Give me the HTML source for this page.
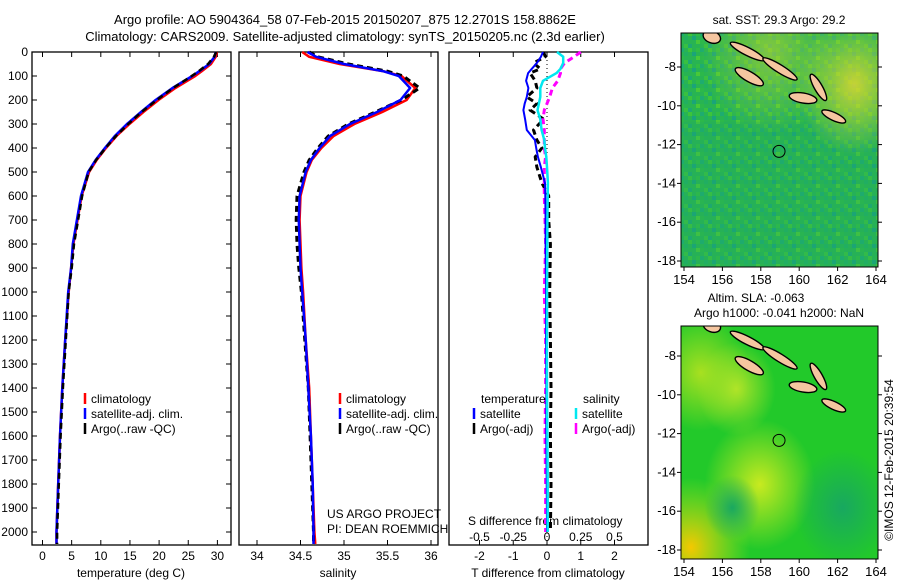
<!DOCTYPE html>
<html><head><meta charset="utf-8"><style>
body{margin:0;background:#fff}
svg{display:block;font-family:"Liberation Sans",sans-serif;font-size:12px}
</style></head><body>
<svg id="fig" width="900" height="580" viewBox="0 0 900 580">
<defs>
<pattern id="sstTex" width="20" height="16" patternUnits="userSpaceOnUse">
<rect width="20" height="16" fill="#28b452"/>
<rect x="0" y="0" width="4" height="4" fill="#1eac70"/><rect x="8" y="0" width="4" height="4" fill="#3cc43a"/>
<rect x="4" y="4" width="4" height="4" fill="#22b060"/><rect x="12" y="4" width="4" height="4" fill="#1aa47a"/>
<rect x="16" y="8" width="4" height="4" fill="#48c838"/><rect x="0" y="8" width="4" height="4" fill="#2cb84a"/>
<rect x="8" y="12" width="4" height="4" fill="#1ea872"/><rect x="16" y="0" width="4" height="4" fill="#30bc44"/>
<rect x="4" y="12" width="4" height="4" fill="#38c040"/>
</pattern>
<radialGradient id="sstWarm" cx="0.88" cy="0.22" r="0.3"><stop offset="0" stop-color="#e0d830" stop-opacity="0.85"/><stop offset="1" stop-color="#d8e02a" stop-opacity="0"/></radialGradient>
<radialGradient id="sstWarm2" cx="0.45" cy="0.08" r="0.35"><stop offset="0" stop-color="#c8d830" stop-opacity="0.55"/><stop offset="1" stop-color="#c8d830" stop-opacity="0"/></radialGradient>
<radialGradient id="slaY1" cx="0.05" cy="0.95" r="0.3"><stop offset="0" stop-color="#f4c800"/><stop offset="1" stop-color="#c8e81a" stop-opacity="0"/></radialGradient>
<radialGradient id="slaY2" cx="0.4" cy="0.68" r="0.28"><stop offset="0" stop-color="#c8ea20"/><stop offset="1" stop-color="#c8ea20" stop-opacity="0"/></radialGradient>
<radialGradient id="slaY3" cx="0.1" cy="0.2" r="0.25"><stop offset="0" stop-color="#a8e020"/><stop offset="1" stop-color="#a8e020" stop-opacity="0"/></radialGradient>
<radialGradient id="slaD1" cx="0.26" cy="0.78" r="0.14"><stop offset="0" stop-color="#1aa860"/><stop offset="1" stop-color="#1aa860" stop-opacity="0"/></radialGradient>
<radialGradient id="slaD2" cx="0.82" cy="0.78" r="0.25"><stop offset="0" stop-color="#18a860"/><stop offset="1" stop-color="#18a860" stop-opacity="0"/></radialGradient>
<radialGradient id="slaY4" cx="0.28" cy="0.27" r="0.2"><stop offset="0" stop-color="#b0e428"/><stop offset="1" stop-color="#b0e428" stop-opacity="0"/></radialGradient>
</defs>
<g id="root"></g>
</svg>
<script>
// ---- data ----
const depths = [0,20,50,80,100,150,200,250,300,350,400,450,500,600,700,800,900,1000,1200,1400,1600,1800,2000,2050];
const tempClim = [29.9,29.7,28.9,27.3,26.2,22.8,19.9,17.3,14.9,12.7,10.9,9.3,8.0,6.7,6.0,5.3,4.9,4.5,3.9,3.4,3.0,2.7,2.4,2.4];
const tempSat = [29.7,29.5,28.6,26.9,25.7,22.3,19.4,16.9,14.5,12.4,10.7,9.1,7.8,6.6,5.9,5.2,4.9,4.4,3.9,3.4,3.0,2.7,2.4,2.4];
const tempArgo = [29.8,29.4,28.4,26.8,25.6,22.4,19.6,17.0,14.7,12.6,10.8,9.2,7.9,6.8,6.1,5.4,5.0,4.5,4.0,3.5,3.1,2.8,2.5,2.5];
const salClim = [34.52,34.6,34.95,35.45,35.66,35.82,35.72,35.44,35.12,34.88,34.74,34.63,34.57,34.5,34.49,34.5,34.51,34.53,34.56,34.6,34.62,34.64,34.66,34.67];
const salSat = [34.58,34.68,35.0,35.45,35.63,35.76,35.65,35.38,35.07,34.84,34.72,34.62,34.56,34.49,34.48,34.49,34.5,34.52,34.56,34.59,34.62,34.64,34.65,34.65];
const salArgo = [34.6,34.7,35.05,35.5,35.68,35.87,35.66,35.36,35.05,34.82,34.7,34.6,34.54,34.46,34.45,34.46,34.48,34.51,34.55,34.59,34.61,34.63,34.65,34.65];
const diffDepths = [0,20,46,70,88,120,150,187,215,242,280,325,367,400,437,480,546,600,700,800,1000,1200,1400,1600,1800,2000];
const tSatDiff = [-0.12,-0.18,-0.3,-0.45,-0.56,-0.62,-0.55,-0.6,-0.66,-0.7,-0.65,-0.6,-0.36,-0.32,-0.27,-0.18,-0.06,-0.05,-0.04,-0.04,-0.03,-0.03,-0.02,-0.02,-0.01,0];
const tArgoDiff = [-0.1,-0.05,-0.4,-0.2,-0.5,-0.35,-0.3,-0.6,-0.3,-0.5,-0.1,-0.4,-0.3,-0.15,-0.35,-0.3,-0.15,0.05,0.05,0.1,0.08,0.1,0.12,0.1,0.12,0.1];
const sSatDiff = [0.074,0.12,0.12,0.1,0.07,-0.03,-0.05,-0.05,-0.06,-0.07,-0.05,-0.04,-0.02,-0.015,-0.005,0,0.007,0.005,0.003,0.002,0,0,0,0.003,0.005,0.005];
const sArgoDiff = [0.25,0.2,0.13,0.1,0.1,0.08,0.04,0.02,0,-0.02,-0.03,-0.02,-0.02,-0.02,-0.01,-0.02,-0.02,-0.02,-0.015,-0.01,-0.02,-0.01,-0.01,-0.015,-0.01,-0.01];
const depthTicks = [0,100,200,300,400,500,600,700,800,900,1000,1100,1200,1300,1400,1500,1600,1700,1800,1900,2000];
const tempTicks = [0,5,10,15,20,25,30];
const salTicks = [34,34.5,35,35.5,36];
const tDiffTicks = [-2,-1,0,1,2];
const sDiffTicks = [-0.5,-0.25,0,0.25,0.5];
const lonTicks = [154,156,158,160,162,164];
const latTicks = [-8,-10,-12,-14,-16,-18];

// ---- scales ----
const yD = d => 52 + d*0.24;
const xT = t => 42.5 + t*5.83;
const xS = s => 257 + (s-34)*87;
const xdT = v => 547 + v*33.75;
const xdS = v => 547 + v*135;

const NS="http://www.w3.org/2000/svg";
const root=document.getElementById('root');
function el(tag,attrs,parent,text){const e=document.createElementNS(NS,tag);for(const k in attrs)e.setAttribute(k,attrs[k]);if(text!==undefined)e.textContent=text;(parent||root).appendChild(e);return e;}
function poly(xs,ys,xf,color,w,dash,name){
  const p=el('polyline',{points:xs.map((v,i)=>xf(v).toFixed(1)+','+yD(ys[i]).toFixed(1)).join(' '),fill:'none',stroke:color,'stroke-width':w,'stroke-dasharray':dash||'none','stroke-linejoin':'round'});
  
  
  return p;
}
function txt(x,y,s,anchor,name,extra){
  const t=el('text',Object.assign({x:x,y:y,'text-anchor':anchor||'start'},extra||{}),root,s);
  
  
  return t;
}

// titles
txt(345,24,'Argo profile: AO 5904364_58 07-Feb-2015 20150207_875 12.2701S 158.8862E','middle','title-line-1',{'font-size':'13'});
txt(345,41,'Climatology: CARS2009. Satellite-adjusted climatology: synTS_20150205.nc (2.3d earlier)','middle','title-line-2',{'font-size':'13'});

// panel frames
const panels=[[32,'temperature-panel'],[239,'salinity-panel'],[449,'difference-panel']];
panels.forEach(([x,n])=>{const r=el('rect',{x:x,y:52,width:199,height:493,fill:'none',stroke:'#000','stroke-width':1.3});});

// depth axis
depthTicks.forEach(d=>{
  const y=yD(d);
  txt(28,y+4,String(d),'end','depth-tick-label');
  el('line',{x1:32,y1:y,x2:37,y2:y,stroke:'#000'});
  el('line',{x1:226,y1:y,x2:231,y2:y,stroke:'#000'});
});
function xticks(ticks,xf,name){
  ticks.forEach(v=>{const x=xf(v);
    el('line',{x1:x,y1:545,x2:x,y2:540,stroke:'#000'});
    el('line',{x1:x,y1:52,x2:x,y2:57,stroke:'#000'});
    txt(x,560,String(v),'middle',name);
  });
}
xticks(tempTicks,xT,'temperature-tick-label');
xticks(salTicks,xS,'salinity-tick-label');
xticks(tDiffTicks,xdT,'t-diff-tick-label');
sDiffTicks.forEach(v=>txt(xdS(v),541,String(v),'middle','s-diff-tick-label'));
txt(131,577,'temperature (deg C)','middle','temperature-axis-title');
txt(338,577,'salinity','middle','salinity-axis-title');
txt(548,577,'T difference from climatology','middle','t-diff-axis-title');
txt(468,525,'S difference from climatology','start','s-diff-axis-title');

// zero line
el('line',{x1:547,y1:52,x2:547,y2:545,stroke:'#000','stroke-dasharray':'1,3'});

// series
poly(tempClim,depths,xT,'#ff0000',2.5,null,'temperature-climatology-line');
poly(tempSat,depths,xT,'#0000ff',2.5,null,'temperature-satellite-line');
poly(tempArgo,depths,xT,'#000',2.5,'6,4','temperature-argo-line');
poly(salClim,depths,xS,'#ff0000',2.5,null,'salinity-climatology-line');
poly(salArgo,depths,xS,'#000',3,'6,4','salinity-argo-line');
poly(salSat,depths,xS,'#0000ff',2.5,null,'salinity-satellite-line');
poly(tArgoDiff,diffDepths,xdT,'#000',3,'6,4','t-diff-argo-line');
poly(sArgoDiff,diffDepths,xdS,'#ff00ff',3,'6,4','s-diff-argo-line');
poly(tSatDiff,diffDepths,xdT,'#0000ff',2,null,'t-diff-satellite-line');
poly(sSatDiff,diffDepths,xdS,'#00e8f0',2.5,null,'s-diff-satellite-line');

// legends
function leg(x,y,color,label,name){
  el('line',{x1:x,y1:y-10,x2:x,y2:y+1,stroke:color,'stroke-width':2.5});
  txt(x+6,y,label,'start',name);
}
[[85,'#ff0000','climatology'],[85,'#0000ff','satellite-adj. clim.'],[85,'#000','Argo(..raw -QC)']].forEach((l,i)=>leg(l[0],403+i*15,l[1],l[2],'temperature-legend-entry'));
[[340,'#ff0000','climatology'],[340,'#0000ff','satellite-adj. clim.'],[340,'#000','Argo(..raw -QC)']].forEach((l,i)=>leg(l[0],403+i*15,l[1],l[2],'salinity-legend-entry'));
txt(481,403,'temperature','start','diff-legend-temperature-header');
txt(583,403,'salinity','start','diff-legend-salinity-header');
leg(474,418,'#0000ff','satellite','diff-legend-entry');
leg(474,433,'#000','Argo(-adj)','diff-legend-entry');
leg(576,418,'#00e8f0','satellite','diff-legend-entry');
leg(576,433,'#ff00ff','Argo(-adj)','diff-legend-entry');
txt(327,518,'US ARGO PROJECT','start','project-credit');
txt(327,533,'PI: DEAN ROEMMICH','start','pi-credit');

// ---- maps ----
const mapL=681, mapW=197;
const lonX = lon => 684 + (lon-154)*19.2;
function drawMap(top,h,lat8,lat18,kind,name){
  const latY = lat => lat8 + (lat+8)*(lat18-lat8)/(-10);
  const g=el('g',{});
  
  
  const cp=el('clipPath',{id:'clip'+kind},g);
  el('rect',{x:mapL,y:top,width:mapW,height:h},cp);
  const inner=el('g',{'clip-path':'url(#clip'+kind+')'},g);
  if(kind==='sst'){
    el('rect',{x:mapL,y:top,width:mapW,height:h,fill:'url(#sstTex)'},inner);
    el('rect',{x:mapL,y:top+h*0.38,width:mapW,height:h*0.62,fill:'#1fa868',opacity:0.25},inner);
    el('rect',{x:mapL,y:top,width:mapW,height:h,fill:'url(#sstWarm)'},inner);
    el('rect',{x:mapL,y:top,width:mapW,height:h,fill:'url(#sstWarm2)'},inner);
  } else {
    el('rect',{x:mapL,y:top,width:mapW,height:h,fill:'#22c92a'},inner);
    ['slaY3','slaY4','slaY2','slaY1','slaD1','slaD2'].forEach(id=>el('rect',{x:mapL,y:top,width:mapW,height:h,fill:'url(#'+id+')'},inner));
  }
  // islands: [lon, lat, rx, ry, rotation]
  const islands=[[155.45,-6.45,9,6,20],[157.3,-7.2,19,4,27],[159.0,-8.1,20,4,32],[157.4,-8.5,16,5,30],[160.2,-9.6,14,5,10],[161.0,-9.05,15,4,60],[161.8,-10.55,13,4,25]];
  islands.forEach(([lo,la,rx,ry,rot])=>{
    const e=el('ellipse',{cx:lonX(lo),cy:latY(la),rx:rx,ry:ry,fill:'#f5c6a0',stroke:'#000','stroke-width':1.4,transform:'rotate('+rot+' '+lonX(lo)+' '+latY(la)+')'},inner);
    
    
  });
  const c=el('circle',{cx:lonX(158.95),cy:latY(-12.35),r:6,fill:'none',stroke:'#000','stroke-width':1},inner);
  
  
  el('rect',{x:mapL,y:top,width:mapW,height:h,fill:'none',stroke:'#000','stroke-width':1},g);
  lonTicks.forEach(lo=>{const x=lonX(lo);el('line',{x1:x,y1:top+h,x2:x,y2:top+h+4,stroke:'#000'},g);txt(x,top+h+17,String(lo),'middle','longitude-tick-label',{'font-size':'13'});});
  latTicks.forEach(la=>{const y=latY(la);el('line',{x1:mapL-4,y1:y,x2:mapL,y2:y,stroke:'#000'},g);el('line',{x1:mapL+mapW,y1:y,x2:mapL+mapW+4,y2:y,stroke:'#000'},g);txt(mapL-5,y+4,String(la),'end','latitude-tick-label',{'font-size':'13'});});
}
drawMap(33,234,67,261,'sst','sst-map');
drawMap(326,233,356,550,'sla','sla-map');
txt(779,24,'sat. SST: 29.3 Argo: 29.2','middle','sst-map-title');
txt(756,302,'Altim. SLA: -0.063','middle','sla-map-title');
txt(779,317,'Argo h1000: -0.041 h2000: NaN','middle','sla-map-subtitle');
txt(0,0,'©IMOS 12-Feb-2015 20:39:54','middle','timestamp',{transform:'translate(893,460) rotate(-90)'});
</script>
</body></html>
